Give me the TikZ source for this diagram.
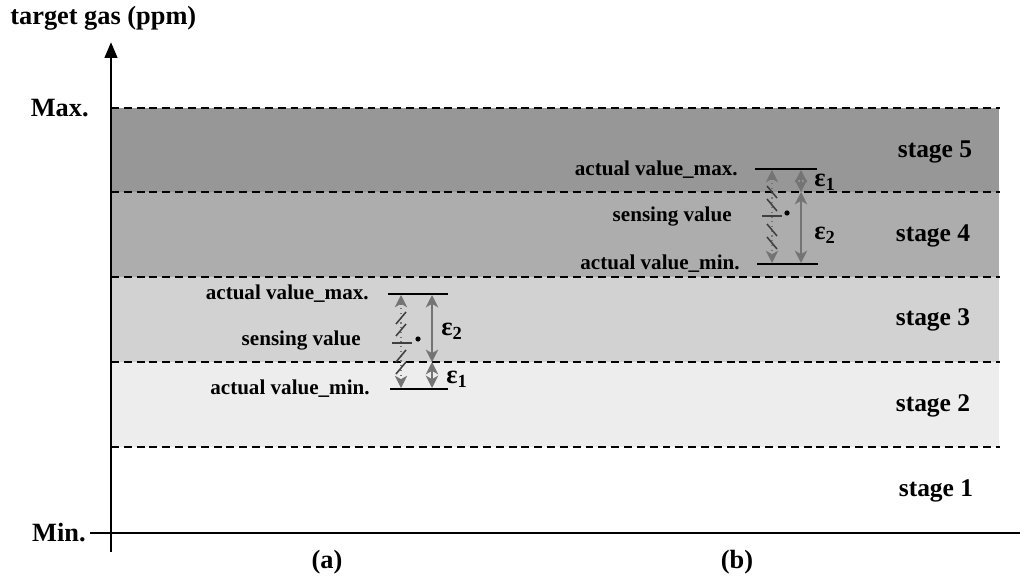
\documentclass[tikz,border=0pt]{standalone}
\usepackage{fontspec}
\setmainfont{Liberation Serif}
\usetikzlibrary{arrows.meta}
\definecolor{sfive}{HTML}{979797}
\definecolor{sfour}{HTML}{ADADAD}
\definecolor{sthree}{HTML}{D2D2D2}
\definecolor{stwo}{HTML}{EDEDED}
\definecolor{arrgray}{HTML}{747474}
\begin{document}
\begin{tikzpicture}[x=0.02cm,y=-0.02cm,
  lbl/.style={font=\bfseries\fontsize{12}{14}\selectfont, inner sep=0},
  biglbl/.style={font=\bfseries\fontsize{15}{17}\selectfont, inner sep=0},
  stagelbl/.style={font=\bfseries\fontsize{14.5}{17}\selectfont, inner sep=0},
  epslbl/.style={font=\bfseries\fontsize{15}{17}\selectfont, inner sep=0},
  dashline/.style={dash pattern=on 4.5pt off 2.8pt, line width=1.2pt},
  axisline/.style={line width=1.7pt},
  levelline/.style={line width=1.2pt},
  errarrow/.style={arrgray, line width=1.5pt, {Stealth[length=7pt,width=7pt,inset=2pt]}-{Stealth[length=7pt,width=7pt,inset=2pt]}},
  senarrow/.style={arrgray, line width=0.7pt, dotted, {Stealth[length=7pt,width=7pt,inset=2pt]}-{Stealth[length=7pt,width=7pt,inset=2pt]}},
  slash/.style={black!75, line width=0.9pt},
]
\useasboundingbox (0,0) rectangle (1024,584);

% stage bands
\fill[sfive]  (111,108) rectangle (999,192);
\fill[sfour]  (111,192) rectangle (999,277);
\fill[sthree] (111,277) rectangle (999,362);
\fill[stwo]   (111,362) rectangle (999,447);

% dashed boundaries
\foreach \yy in {108,192,277,362,447}
  \draw[dashline] (111,\yy) -- (1000,\yy);

% axes
\coordinate (ybot) at (111,552);
\coordinate (ytop) at (111,42);
\coordinate (xl) at (90,533);
\coordinate (xr) at (1020,533);
\draw[axisline, -{Triangle[length=9pt,width=7pt]}] (ybot) -- (ytop);
\draw[axisline] (xl) -- (xr);

\node[biglbl, anchor=west] (ylab) at (10,18) {target gas (ppm)};
\node[biglbl, anchor=east] (max) at (89,108) {Max.};
\node[biglbl, anchor=east] (min) at (86,533) {Min.};
\node[biglbl] (la) at (327,562) {(a)};
\node[biglbl] (lb) at (737,562) {(b)};

% stage labels
\node[stagelbl] (st5) at (935,152) {stage 5};
\node[stagelbl] (st4) at (933,236) {stage 4};
\node[stagelbl] (st3) at (933,320) {stage 3};
\node[stagelbl] (st2) at (933,406) {stage 2};
\node[stagelbl] (st1) at (936,491) {stage 1};

% ---------- (a) ----------
\coordinate (amaxl) at (388,294);
\coordinate (amaxr) at (448,294);
\coordinate (aminl) at (390,389);
\coordinate (aminr) at (448,389);
\draw[levelline] (amaxl) -- (amaxr);
\draw[levelline] (aminl) -- (aminr);
\node[lbl, anchor=east] (amaxt) at (369,294) {actual value\_max.};
\node[lbl, anchor=east] (asent) at (361,341) {sensing value};
\node[lbl, anchor=east] (amint) at (370,389) {actual value\_min.};
\coordinate (asu) at (401,295);
\coordinate (asd) at (401,388);
\draw[senarrow] (asu) -- (asd);
\foreach \yy in {318,330,356,368}
  \draw[slash] (396,\yy+6) -- (406,\yy-6);
\draw[line width=0.9pt, black!75] (392,343) -- (412,343);
\fill (418,339) circle (2.6);
\coordinate (ae2t) at (432,295);
\coordinate (ae2b) at (432,362);
\coordinate (ae1b) at (432,388);
\draw[errarrow] (ae2t) -- (ae2b);
\draw[errarrow] (ae2b) -- (ae1b);
\node[epslbl, anchor=west] (ae2) at (441,331) {ε\textsubscript{2}};
\node[epslbl, anchor=west] (ae1) at (446,379) {ε\textsubscript{1}};

% ---------- (b) ----------
\coordinate (bmaxl) at (755,169);
\coordinate (bmaxr) at (817,169);
\coordinate (bminl) at (757,264);
\coordinate (bminr) at (818,264);
\draw[levelline] (bmaxl) -- (bmaxr);
\draw[levelline] (bminl) -- (bminr);
\node[lbl, anchor=east] (bmaxt) at (738,170) {actual value\_max.};
\node[lbl, anchor=east] (bsent) at (732,217) {sensing value};
\node[lbl, anchor=east] (bmint) at (740,264) {actual value\_min.};
\coordinate (bsu) at (772,170);
\coordinate (bsd) at (772,263);
\draw[senarrow] (bsu) -- (bsd);
\foreach \yy in {192,205,230,243}
  \draw[slash] (767,\yy-6) -- (777,\yy+6);
\draw[line width=0.9pt, black!75] (762,216) -- (782,216);
\fill (787,213) circle (2.6);
\coordinate (be1t) at (801,170);
\coordinate (be1b) at (801,192);
\coordinate (be2b) at (801,263);
\draw[errarrow] (be1t) -- (be1b);
\draw[errarrow] (be1b) -- (be2b);
\node[epslbl, anchor=west] (be1) at (814,182) {ε\textsubscript{1}};
\node[epslbl, anchor=west] (be2) at (814,235) {ε\textsubscript{2}};
\end{tikzpicture}
\end{document}
